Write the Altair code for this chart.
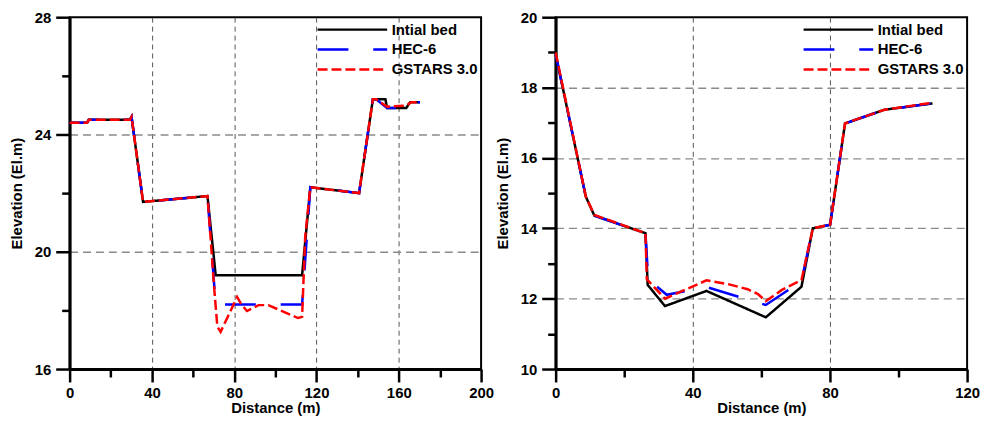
import altair as alt
import pandas as pd

SERIES = ["Intial bed", "HEC-6", "GSTARS 3.0"]
COLORS = ["#000000", "#0000ff", "#ff0000"]
DASHES = [[1, 0], [31, 25], [10, 4]]

# ---------- left cross-section ----------
L_BED_X = [0, 8.5, 9.3, 29.3, 30.1, 35.7, 67, 71, 113, 117, 140.7, 147.4, 153.5, 154.3, 163.6, 165.5, 170.3]
L_BED_Y = [24.4, 24.4, 24.5, 24.5, 24.6, 21.7, 21.9, 19.2, 19.2, 22.2, 22.0, 25.2, 25.2, 24.9, 24.9, 25.1, 25.1]

L_HEC_X = [0, 8.5, 9.3, 29.3, 30.1, 35.7, 67, 71, 113, 117, 140.7, 147.4, 149, 154.3, 163.6, 165.5, 170.3]
L_HEC_Y = [24.4, 24.4, 24.5, 24.5, 24.6, 21.7, 21.9, 18.2, 18.2, 22.2, 22.0, 25.2, 25.2, 24.9, 24.9, 25.1, 25.1]

L_GST_X = [0, 8.5, 9.3, 29.3, 30.1, 35.7, 67, 68.5, 70, 71.8, 73.4, 77, 81.4, 83.5, 86.2, 91.8, 96.6,
           111, 113, 114.5, 117, 140.7, 147.4, 149, 154.3, 163.6, 166, 170.3]
L_GST_Y = [24.4, 24.4, 24.5, 24.5, 24.6, 21.7, 21.9, 20.5, 19.0, 17.45, 17.27, 17.8, 18.46, 18.2, 17.98, 18.18, 18.18,
           17.74, 17.78, 20.5, 22.2, 22.0, 25.2, 25.2, 24.95, 24.98, 25.1, 25.1]

# ---------- right cross-section ----------
R_BED_X = [0, 8.8, 11.3, 26.2, 26.85, 31.9, 44, 61.3, 71.7, 75, 80.05, 84.4, 95.9, 109.9]
R_BED_Y = [18.95, 14.9, 14.36, 13.86, 12.39, 11.79, 12.22, 11.47, 12.34, 14.0, 14.1, 16.98, 17.37, 17.55]

R_HEC_X = [0, 8.8, 11.3, 26.2, 27, 32.4, 44, 61.3, 71.7, 75, 80.05, 84.4, 95.9, 109.9]
R_HEC_Y = [18.95, 14.9, 14.36, 13.86, 12.55, 12.11, 12.33, 11.82, 12.5, 14.0, 14.1, 16.98, 17.37, 17.55]

R_GST_X = [0, 8.8, 11.3, 26.2, 26.6, 31.9, 44, 50, 56, 59, 61.3, 66, 71.7, 75, 80.05, 84.4, 95.9, 109.9]
R_GST_Y = [19.0, 14.9, 14.38, 13.86, 12.55, 12.0, 12.52, 12.42, 12.27, 12.13, 11.93, 12.25, 12.53, 14.0, 14.1, 16.98, 17.37, 17.57]

FONT = "Liberation Sans"
W, H = 414, 354


def frame(xs, ys, name):
    return pd.DataFrame({"x": xs, "y": ys, "series": name, "order": list(range(len(xs)))})


def make_panel(sets, xdom, xstep, xmajor, ydom, ystep, ymajor):
    xvals = list(range(xdom[0], xdom[1] + 1, xstep))
    yvals = list(range(ydom[0], ydom[1] + 1, ystep))
    xaxis = alt.Axis(
        values=xvals,
        labelExpr=f"datum.value % {xmajor} === 0 ? datum.label : ''",
        tickSize={"condition": {"test": f"datum.value % {xmajor} === 0", "value": 13}, "value": 8},
        grid=True, gridColor="#555555", gridDash=[5, 4], gridWidth=1,
        gridOpacity={"condition": {"test": f"datum.value % {xmajor} === 0 && datum.value > {xdom[0]} && datum.value < {xdom[1]}", "value": 1}, "value": 0},
        title="Distance (m)", labelPadding=4, titlePadding=0,
    )
    yaxis = alt.Axis(
        values=yvals,
        labelExpr=f"datum.value % {ymajor} === 0 ? datum.label : ''",
        tickSize={"condition": {"test": f"datum.value % {ymajor} === 0", "value": 14}, "value": 8},
        grid=True, gridColor="#8a8a8a", gridDash=[8, 5], gridWidth=1.3,
        gridOpacity={"condition": {"test": f"datum.value % {ymajor} === 0 && datum.value > {ydom[0]} && datum.value < {ydom[1]}", "value": 1}, "value": 0},
        title="Elevation (El.m)", labelPadding=5, titlePadding=10,
    )
    legend = alt.Legend(
        title=None, orient="none", legendX=240, legendY=3, padding=0,
        symbolType="M0,0H8.75", symbolSize=256, symbolStrokeWidth=2.5,
        labelOffset=65, labelFont=FONT, labelFontSize=15, labelFontWeight="bold",
        labelColor="black", rowPadding=2,
    )
    layers = []
    for (xs, ys), name in zip(sets, SERIES):
        layers.append(
            alt.Chart(frame(xs, ys, name)).mark_line(strokeWidth=2.5).encode(
                x=alt.X("x:Q", scale=alt.Scale(domain=list(xdom), nice=False, zero=False), axis=xaxis),
                y=alt.Y("y:Q", scale=alt.Scale(domain=list(ydom), nice=False, zero=False), axis=yaxis),
                color=alt.Color("series:N", scale=alt.Scale(domain=SERIES, range=COLORS), legend=legend),
                strokeDash=alt.StrokeDash("series:N", scale=alt.Scale(domain=SERIES, range=DASHES), legend=legend),
                order="order:Q",
            )
        )
    return alt.layer(*layers).properties(width=W, height=H)


left = make_panel([(L_BED_X, L_BED_Y), (L_HEC_X, L_HEC_Y), (L_GST_X, L_GST_Y)],
                  (0, 200), 20, 40, (16, 28), 2, 4)
right = make_panel([(R_BED_X, R_BED_Y), (R_HEC_X, R_HEC_Y), (R_GST_X, R_GST_Y)],
                   (0, 120), 20, 40, (10, 20), 1, 2)

chart = (
    alt.hconcat(left, right, spacing=75, bounds="flush")
    .resolve_scale(color="independent", strokeDash="independent")
    .properties(padding={"left": 0, "top": 0, "right": 2, "bottom": 0})
    .configure_view(stroke="black", strokeWidth=2)
    .configure_axis(
        domainColor="black", domainWidth=3, tickColor="black", tickWidth=2.5,
        labelFont=FONT, labelFontSize=15, labelFontWeight="bold", labelColor="black",
        titleFont=FONT, titleFontSize=15, titleFontWeight="bold", titleColor="black",
        labelOverlap=False, labelFlush=False,
    )
)

chart.save("out.html", embed_options={"renderer": "svg", "actions": False})
